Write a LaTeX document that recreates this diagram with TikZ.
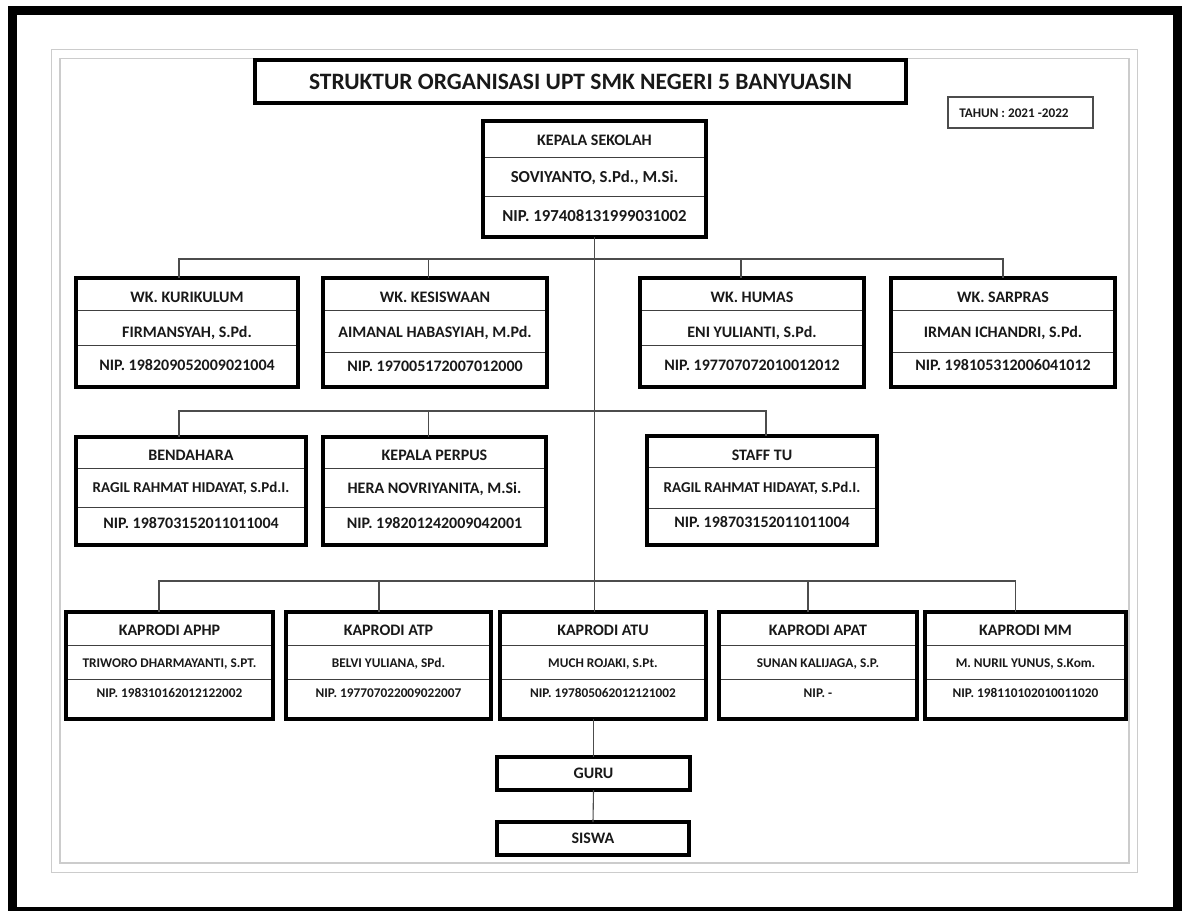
\documentclass[tikz,border=0pt]{standalone}
\usepackage{fontspec}
\setmainfont{Carlito}
\usetikzlibrary{calc}
\tikzset{
  frame/.style={draw=black, line width=3.6bp, rectangle, inner sep=0pt, outer sep=0pt},
  divider/.style={draw=black!75, line width=1bp},
  conn/.style={draw=black!70, line width=1.1bp},
  txt/.style={inner sep=0pt, outer sep=0pt, text=black!90, text depth=0pt, anchor=center},
  hdk/.style={txt, font=\fontsize{16.8bp}{19bp}\selectfont\bfseries, text height=10.8bp},
  hd/.style={txt, font=\fontsize{16bp}{19bp}\selectfont\bfseries, text height=10.3bp},
  nms/.style={txt, font=\fontsize{15bp}{17bp}\selectfont\bfseries, text height=9.7bp},
  nmt/.style={txt, font=\fontsize{13.3bp}{16bp}\selectfont\bfseries, text height=8.6bp},
  ttl/.style={txt, font=\fontsize{23.5bp}{27bp}\selectfont\bfseries, text height=15.1bp},
  yr/.style={txt, font=\fontsize{13.2bp}{16bp}\selectfont\bfseries, text height=8.5bp},
}
\newcommand\obox[7]{%
  \draw[divider] (#2,#6) -- (#4,#6) (#2,#7) -- (#4,#7);
  \node[frame, anchor=north west, minimum width={(#4-#2)*1bp}, minimum height={(#5-#3)*1bp}] (#1) at (#2,#3) {};
}
\newcommand\otxt[9]{%
  \node[hd] (#1-a) at (#1.north |- 0,#2) {#5};
  \node[#8] (#1-b) at (#1.north |- 0,#3) {#6};
  \node[#9] (#1-c) at (#1.north |- 0,#4) {#7};
}
\begin{document}
\begin{tikzpicture}[x=1bp,y=-1bp]
\useasboundingbox (0,0) rectangle (1186,911);
\fill[white] (0,0) rectangle (1186,911);
% page frames
\draw[black, line width=9bp] (12.25,10.5) rectangle (1177.5,911.5);
\draw[black!20, line width=1.2bp] (51.7,49.3) rectangle (1137.7,872.7);
\draw[black!20, line width=1.2bp] (60,58.3) rectangle (1129,863);

% title and year
\node[frame, minimum width=651bp, minimum height=43bp] (title) at (580.5,81.5) {};
\node[ttl] (title-t) at (title.center) {STRUKTUR ORGANISASI UPT SMK NEGERI 5 BANYUASIN};
\node[draw=black!70, line width=1.3bp, rectangle, inner sep=0pt, minimum width=145bp, minimum height=31bp] (tahun) at (1020.5,112.5) {};
\node[yr] (tahun-t) at (1014,113) {TAHUN : 2021 -2022};

% kepala sekolah
\obox{kep}{483}{121}{706}{237}{157}{196}
\otxt{kep}{140}{177}{216}{KEPALA SEKOLAH}{SOVIYANTO, S.Pd., M.Si.}{NIP. 197408131999031002}{hdk}{hdk}

% row 1
\obox{kur}{76}{278}{298}{387}{310}{345}
\otxt{kur}{297}{332}{365}{WK. KURIKULUM}{FIRMANSYAH, S.Pd.}{NIP. 198209052009021004}{hd}{hd}
\obox{kes}{323}{278}{547}{387}{310}{352}
\otxt{kes}{297}{332}{366}{WK. KESISWAAN}{AIMANAL HABASYIAH, M.Pd.}{NIP. 197005172007012000}{hd}{hd}
\obox{hum}{640}{278}{864}{387}{310}{345}
\otxt{hum}{297}{332}{365}{WK. HUMAS}{ENI YULIANTI, S.Pd.}{NIP. 197707072010012012}{hd}{hd}
\obox{sar}{891}{278}{1115}{387}{310}{352}
\otxt{sar}{297}{332}{365}{WK. SARPRAS}{IRMAN ICHANDRI, S.Pd.}{NIP. 198105312006041012}{hd}{hd}

% row 2
\obox{ben}{76}{437}{306}{545}{468}{507}
\otxt{ben}{455}{488}{523}{BENDAHARA}{RAGIL RAHMAT HIDAYAT, S.Pd.I.}{NIP. 198703152011011004}{nms}{hd}
\obox{per}{323}{437}{546}{545}{468}{507}
\otxt{per}{455}{488}{523}{KEPALA PERPUS}{HERA NOVRIYANITA, M.Si.}{NIP. 198201242009042001}{hd}{hd}
\obox{stf}{647}{436}{877}{545}{467}{508}
\otxt{stf}{455}{488}{522}{STAFF TU}{RAGIL RAHMAT HIDAYAT, S.Pd.I.}{NIP. 198703152011011004}{nms}{hd}

% row 3
\obox{aphp}{66}{612}{273}{719}{645}{679}
\otxt{aphp}{630}{663}{693}{KAPRODI APHP}{TRIWORO DHARMAYANTI, S.PT.}{NIP. 198310162012122002}{nmt}{nmt}
\obox{atp}{286}{612}{491}{719}{645}{679}
\otxt{atp}{630}{663}{693}{KAPRODI ATP}{BELVI YULIANA, SPd.}{NIP. 197707022009022007}{nmt}{nmt}
\obox{atu}{500}{612}{706}{719}{645}{679}
\otxt{atu}{630}{663}{693}{KAPRODI ATU}{MUCH ROJAKI, S.Pt.}{NIP. 197805062012121002}{nmt}{nmt}
\obox{apat}{719}{612}{917}{719}{645}{679}
\otxt{apat}{630}{663}{693}{KAPRODI APAT}{SUNAN KALIJAGA, S.P.}{NIP. -}{nmt}{nmt}
\obox{mm}{925}{612}{1126}{719}{645}{679}
\otxt{mm}{630}{663}{693}{KAPRODI MM}{M. NURIL YUNUS, S.Kom.}{NIP. 198110102010011020}{nmt}{nmt}

% guru / siswa
\node[frame, minimum width=193bp, minimum height=33bp] (guru) at (593.5,773.5) {};
\node[hd] (guru-t) at (guru.center) {GURU};
\node[frame, minimum width=192bp, minimum height=33bp] (siswa) at (593,838.5) {};
\node[hd] (siswa-t) at (siswa.center) {SISWA};

% bus coordinates
\coordinate (bus1) at (0,259);
\coordinate (bus2) at (0,411);
\coordinate (bus3) at (0,581);

% connectors
\draw[conn] (kep.south) -- (kep.south |- atu.north);
\draw[conn] (kur.north -| 179,0) -- (bus1 -| 179,0) -- (bus1 -| 1003,0) -- (sar.north -| 1003,0);
\draw[conn] (kes.north -| 428.6,0) -- (bus1 -| 428.6,0);
\draw[conn] (hum.north -| 741,0) -- (bus1 -| 741,0);
\draw[conn] (ben.north -| 179,0) -- (bus2 -| 179,0) -- (bus2 -| 766,0) -- (stf.north -| 766,0);
\draw[conn] (per.north -| 428.6,0) -- (bus2 -| 428.6,0);
\draw[conn] (aphp.north -| 159,0) -- (bus3 -| 159,0) -- (bus3 -| 1015.5,0) -- (mm.north -| 1015.5,0);
\draw[conn] (atp.north -| 379,0) -- (bus3 -| 379,0);
\draw[conn] (apat.north -| 808,0) -- (bus3 -| 808,0);
\draw[conn] (atu.south -| guru.north) -- (guru.north);
\draw[conn] (guru.south) -- (siswa.north);
\end{tikzpicture}
\end{document}
